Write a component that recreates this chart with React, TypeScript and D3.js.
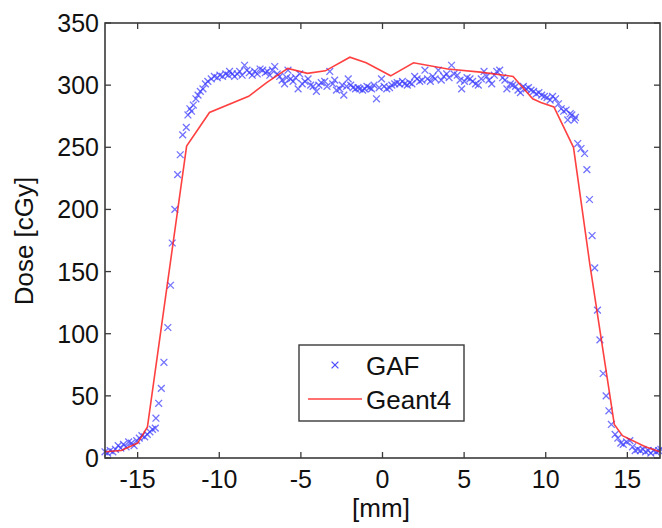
import React from 'react';
import * as d3 from 'd3';

// GAF film measurement, [mm, cGy]
const gafPoints: [number, number][] = [
  [-17.0, 5], [-16.84, 4], [-16.68, 6], [-16.52, 5], [-16.36, 7], [-16.19, 10], [-16.03, 8], [-15.87, 11],
  [-15.71, 9], [-15.55, 13], [-15.38, 12], [-15.22, 10], [-15.06, 14], [-14.9, 16], [-14.74, 18], [-14.57, 17],
  [-14.41, 19], [-14.25, 21], [-14.09, 23], [-13.92, 24], [-13.88, 32], [-13.71, 44], [-13.55, 56], [-13.39, 77],
  [-13.15, 105], [-12.99, 139], [-12.88, 173], [-12.72, 200], [-12.55, 228], [-12.39, 244], [-12.24, 260], [-12.02, 266],
  [-11.92, 276], [-11.8, 281], [-11.7, 279], [-11.59, 284], [-11.43, 289], [-11.3, 292], [-11.16, 295], [-11.0, 297],
  [-10.85, 301], [-10.7, 303], [-10.49, 305], [-10.3, 307], [-10.12, 306], [-9.96, 308], [-9.8, 307], [-9.6, 309],
  [-9.45, 308], [-9.37, 311], [-9.2, 309], [-9.06, 307], [-8.9, 309], [-8.75, 311], [-8.6, 308], [-8.45, 316],
  [-8.3, 312], [-8.16, 310], [-7.98, 308], [-7.83, 311], [-7.67, 309], [-7.5, 313], [-7.34, 312], [-7.18, 310],
  [-7.05, 311], [-6.9, 308], [-6.75, 312], [-6.6, 315], [-6.45, 309], [-6.3, 307], [-6.15, 304], [-6.0, 301],
  [-5.87, 306], [-5.79, 312], [-5.63, 305], [-5.48, 303], [-5.33, 306], [-5.17, 297], [-5.07, 309], [-4.92, 301],
  [-4.75, 303], [-4.56, 305], [-4.4, 300], [-4.25, 299], [-4.05, 295], [-3.9, 300], [-3.75, 302], [-3.54, 303],
  [-3.4, 299], [-3.23, 311], [-3.05, 301], [-2.93, 304], [-2.82, 296], [-2.62, 297], [-2.47, 300], [-2.37, 292],
  [-2.2, 299], [-2.1, 305], [-1.95, 300], [-1.8, 298], [-1.65, 297], [-1.5, 298], [-1.39, 297], [-1.22, 296],
  [-1.09, 297], [-0.95, 299], [-0.8, 298], [-0.67, 297], [-0.52, 300], [-0.37, 289], [-0.2, 298], [-0.06, 305],
  [0.1, 299], [0.26, 297], [0.43, 298], [0.57, 300], [0.75, 301], [0.9, 302], [1.05, 301], [1.22, 303],
  [1.36, 301], [1.52, 300], [1.66, 302], [1.8, 301], [1.97, 307], [2.12, 305], [2.28, 303], [2.42, 304],
  [2.6, 312], [2.76, 305], [2.93, 303], [3.08, 307], [3.22, 305], [3.42, 312], [3.6, 304], [3.75, 307],
  [3.93, 309], [4.08, 306], [4.23, 316], [4.38, 309], [4.58, 308], [4.75, 304], [4.85, 297], [5.02, 303],
  [5.18, 306], [5.36, 305], [5.52, 303], [5.7, 301], [5.87, 300], [6.05, 305], [6.22, 311], [6.38, 307],
  [6.52, 304], [6.69, 301], [6.85, 308], [7.0, 311], [7.18, 312], [7.36, 306], [7.5, 304], [7.62, 297],
  [7.83, 301], [7.98, 300], [8.15, 299], [8.3, 296], [8.45, 294], [8.63, 299], [8.8, 297], [8.94, 298],
  [9.1, 296], [9.26, 295], [9.42, 293], [9.58, 294], [9.75, 292], [9.92, 291], [10.08, 290], [10.27, 288],
  [10.42, 291], [10.6, 289], [10.78, 285], [10.95, 281], [11.1, 279], [11.25, 280], [11.35, 272], [11.5, 277],
  [11.6, 276], [11.76, 272], [11.82, 274], [11.96, 253], [12.16, 249], [12.38, 245], [12.52, 232], [12.68, 208],
  [12.84, 179], [13.0, 153], [13.17, 119], [13.32, 95], [13.52, 68], [13.7, 50], [13.87, 38], [14.02, 27],
  [14.25, 19], [14.42, 16], [14.6, 12], [14.75, 11], [14.95, 13], [15.15, 14], [15.32, 9], [15.48, 6],
  [15.64, 7], [15.8, 6], [15.96, 7], [16.12, 5], [16.28, 6], [16.44, 4], [16.6, 6], [16.76, 5], [16.92, 6], [17.05, 7],
];

// Geant4 simulation, [mm, cGy]
const geantPoints: [number, number][] = [
  [-17, 5], [-16, 6], [-15, 12], [-14.4, 25], [-12.0, 251], [-10.6, 278], [-8.2, 291], [-7.1, 302],
  [-5.8, 313.5], [-4.6, 309.5], [-3.5, 311.5], [-2.0, 322.5], [-1.0, 318], [0.5, 307.5], [1.9, 318],
  [4.0, 313], [6.0, 310.5], [8.0, 307], [9.2, 289], [9.7, 286], [10.5, 282.5], [11.7, 250], [12.7, 156],
  [14.2, 27], [14.7, 18], [16.1, 9], [17, 5],
];

const xTicks = [-15, -10, -5, 0, 5, 10, 15];
const yTicks = [0, 50, 100, 150, 200, 250, 300, 350];
const xDomain: [number, number] = [-17, 17];
const yDomain: [number, number] = [0, 350];
const legendLabels = ['GAF', 'Geant4'];

const W = 662;
const H = 528;
const plot = { left: 105, right: 660, top: 23, bottom: 458 };
const font = '"Liberation Sans", Arial, sans-serif';
const axisColor = '#3a3a3a';
const blue = '#3b3bff';
const red = '#ff1f1f';

export default function App() {
  const x = d3.scaleLinear().domain(xDomain).range([plot.left, plot.right]);
  const y = d3.scaleLinear().domain(yDomain).range([plot.bottom, plot.top]);
  const line = d3.line<[number, number]>().x(d => x(d[0])).y(d => y(d[1]));
  const tick = 6;
  const m = 3.4;

  const cross = (cx: number, cy: number, key: string | number, op = 0.72) => (
    <path
      key={key}
      d={`M${cx - m},${cy - m}L${cx + m},${cy + m}M${cx - m},${cy + m}L${cx + m},${cy - m}`}
      stroke={blue}
      strokeWidth={1.3}
      strokeOpacity={op}
      fill='none'
    />
  );

  return (
    <svg
      width={W}
      height={H}
      style={{ position: 'absolute', left: 0, top: 0, background: '#fff' }}
      fontFamily={font}
    >
      <rect x={0} y={0} width={W} height={H} fill='#fff' />

      {/* data */}
      <g>
        {gafPoints.map((d, i) => cross(x(d[0]), y(d[1]), i))}
        <path d={line(geantPoints) || ''} fill='none' stroke={red} strokeWidth={1.6} strokeOpacity={0.85} />
      </g>

      {/* axes box */}
      <rect
        x={plot.left}
        y={plot.top}
        width={plot.right - plot.left}
        height={plot.bottom - plot.top}
        fill='none'
        stroke={axisColor}
        strokeWidth={1.6}
      />
      {xTicks.map(t => (
        <g key={'x' + t}>
          <line x1={x(t)} x2={x(t)} y1={plot.bottom} y2={plot.bottom - tick} stroke={axisColor} strokeWidth={1.3} />
          <line x1={x(t)} x2={x(t)} y1={plot.top} y2={plot.top + tick} stroke={axisColor} strokeWidth={1.3} />
          <text x={x(t)} y={488} textAnchor='middle' fontSize={25} fill='#111'>{t}</text>
        </g>
      ))}
      {yTicks.map(t => (
        <g key={'y' + t}>
          <line x1={plot.left} x2={plot.left + tick} y1={y(t)} y2={y(t)} stroke={axisColor} strokeWidth={1.3} />
          <line x1={plot.right} x2={plot.right - tick} y1={y(t)} y2={y(t)} stroke={axisColor} strokeWidth={1.3} />
          <text x={99} y={y(t) + 9} textAnchor='end' fontSize={25} fill='#111'>{t}</text>
        </g>
      ))}

      {/* axis labels */}
      <text x={381} y={517} textAnchor='middle' fontSize={26} fill='#111'>[mm]</text>
      <text transform='translate(33,241) rotate(-90)' textAnchor='middle' fontSize={26} fill='#111'>Dose [cGy]</text>

      {/* legend */}
      <g>
        <rect x={299} y={345} width={165} height={76} fill='#fff' stroke={axisColor} strokeWidth={1.4} />
        {cross(335, 365, 'leg', 0.9)}
        <text x={366} y={375} fontSize={26} fill='#111'>{legendLabels[0]}</text>
        <line x1={308} x2={362} y1={399} y2={399} stroke={red} strokeWidth={1.6} strokeOpacity={0.85} />
        <text x={366} y={409} fontSize={26} fill='#111'>{legendLabels[1]}</text>
      </g>
    </svg>
  );
}
